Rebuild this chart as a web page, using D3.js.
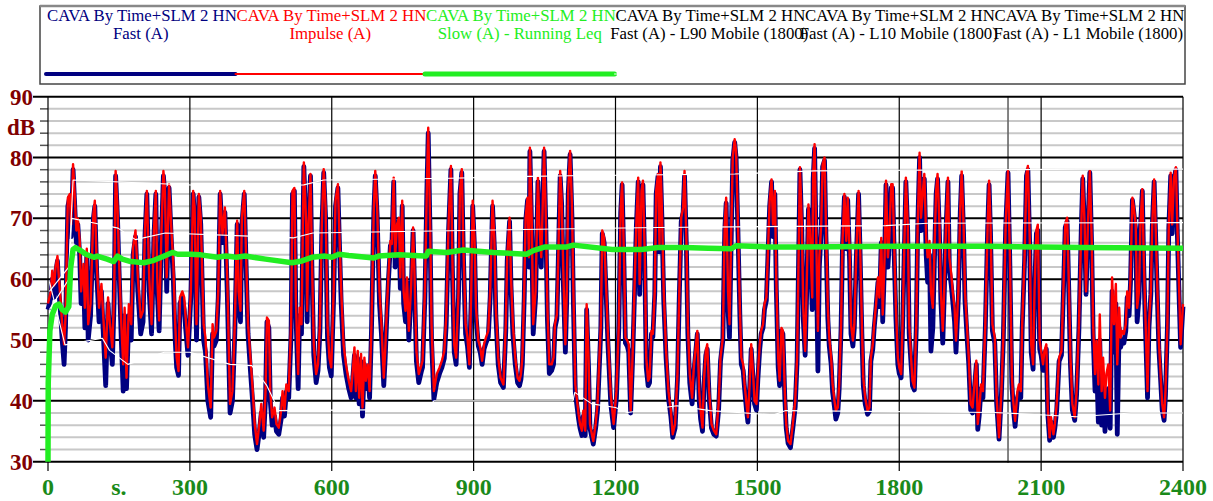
<!DOCTYPE html>
<html><head><meta charset="utf-8">
<script src="https://cdn.jsdelivr.net/npm/d3@7/dist/d3.min.js"></script>
<style>body{margin:0;background:#fff}svg{display:block}text{font-family:"Liberation Serif","Times New Roman",serif}</style>
</head><body><svg id="c" width="1213" height="501"></svg>
<script>
// ---- DATA ----
const legendTitles = ["CAVA By Time+SLM 2 HN","CAVA By Time+SLM 2 HN","CAVA By Time+SLM 2 HN","CAVA By Time+SLM 2 HN","CAVA By Time+SLM 2 HN","CAVA By Time+SLM 2 HN"];
const legendNames = ["Fast (A)","Impulse (A)","Slow (A) - Running Leq","Fast (A) - L90 Mobile (1800)","Fast (A) - L10 Mobile (1800)","Fast (A) - L1 Mobile (1800)"];
const xTicks = [0,300,600,900,1200,1500,1800,2100,2400];
const yTicks = [30,40,50,60,70,80,90];
const xUnit = "s.";
const yUnit = "dB";
const cursorTime = 2030;

const times = [0,6,9,13,16,20,23,27,30,34,37,42,46,49,53,56,60,63,67,70,75,78,82,85,90,96,99,103,108,113,117,122,127,131,136,140,143,147,150,155,159,162,166,171,176,180,185,190,196,201,205,209,214,219,224,228,231,235,240,244,247,251,256,261,265,269,272,276,279,284,288,291,296,302,307,310,314,319,323,329,333,338,344,348,351,356,360,364,369,374,379,385,390,
395,400,403,407,410,415,419,423,428,433,437,442,447,451,456,460,463,467,470,474,479,483,488,493,496,500,504,509,514,517,521,524,529,532,536,539,541,546,548,551,555,558,562,567,571,575,579,583,587,591,595,599,604,608,613,616,620,625,630,636,641,644,648,651,655,658,662,665,669,672,676,680,684,689,692,696,701,705,710,713,717,720,724,727,731,734,738,742,745,749,752,756,759,763,768,772,775,779,784,790,792,797,
801,804,808,811,816,822,828,833,838,842,847,852,855,859,863,868,871,875,878,883,887,891,895,898,902,905,910,914,918,922,926,931,935,940,944,947,952,957,963,968,971,976,979,983,988,993,997,1000,1003,1007,1010,1014,1017,1019,1023,1026,1031,1036,1039,1043,1046,1049,1053,1056,1060,1065,1069,1072,1076,1079,1083,1086,1090,1094,1097,1100,1104,1108,1111,1115,1118,1122,1125,1129,1132,1136,1139,1143,1146,1150,1153,1158,1162,1166,1169,1172,1176,1180,1184,1190,1196,
1202,1207,1211,1214,1218,1221,1225,1228,1232,1236,1240,1244,1248,1251,1255,1258,1262,1265,1269,1272,1276,1279,1283,1286,1290,1293,1295,1298,1302,1307,1312,1317,1321,1326,1331,1335,1339,1343,1346,1350,1353,1357,1362,1366,1369,1373,1377,1380,1384,1387,1391,1394,1398,1403,1408,1413,1418,1422,1427,1431,1434,1438,1441,1445,1448,1452,1455,1459,1463,1466,1470,1473,1477,1480,1484,1487,1491,1494,1498,1501,1505,1508,1512,1515,1519,1522,1526,1530,1533,1537,1540,1544,1547,1551,1554,1558,1561,1565,1570,1575,1580,1584,
1590,1594,1597,1601,1604,1608,1612,1616,1618,1621,1624,1628,1631,1635,1638,1642,1645,1649,1652,1656,1659,1663,1666,1670,1673,1677,1680,1684,1688,1691,1695,1698,1702,1705,1709,1714,1717,1721,1724,1728,1733,1737,1740,1744,1747,1751,1755,1758,1762,1765,1769,1772,1776,1779,1783,1786,1790,1793,1797,1800,1804,1807,1811,1814,1818,1821,1825,1828,1832,1836,1839,1843,1846,1850,1853,1857,1860,1864,1867,1871,1874,1878,1881,1885,1888,1892,1895,1899,1903,1906,1910,1913,1917,1920,1925,1929,1932,1936,1939,1943,1947,1951,1955,1959,1963,1966,1969,1973,1977,1982,1987,
1990,1993,1997,2002,2006,2011,2016,2020,2025,2030,2034,2038,2041,2045,2050,2053,2057,2060,2065,2069,2072,2076,2079,2083,2086,2090,2093,2097,2100,2104,2107,2111,2114,2118,2121,2126,2129,2133,2138,2143,2147,2151,2155,2159,2162,2166,2171,2175,2180,2185,2188,2192,2195,2199,2203,2207,2210,2214,2217,2221,2224,2228,2231,2235,2238,2242,2246,2250,2254,2258,2261,2265,2268,2272,2275,2279,2282,2286,2289,2293,2296,2300,2303,2307,2310,2314,2317,2321,2325,2328,2332,2335,2339,2342,2346,2349,2353,2356,2360,2363,2367,2370,2374,2377,2381,2385,2388,2392,2395,2400];

const impulse = [56,58,61.4,59,62,63.8,60.3,56,52.6,49.3,53.7,73.4,74,69,78.9,74.5,68,70,66.3,58,62.5,55.3,65,52.6,56,70.7,72.9,62.5,55.3,59.2,53.7,47.1,57,52.6,48.8,58,77.8,71.8,63.6,52.6,46,55.3,43.8,55.9,52.6,65.2,68,60.3,53.7,54.8,68,74.5,60.3,52.6,68,74.5,60.3,53.2,68,77.8,75,60.3,75.6,68,62.5,52.6,47.1,44.9,57,58,57,53.7,48.8,58,74.5,71.8,52.6,74,70.1,52.6,50.4,42.7,38.9,52.6,50.4,51.5,58,74.5,67.4,71.8,60.3,39.5,41.6,
52.6,69.6,58,54.8,70.1,74.5,63.6,52.6,47.1,41.6,36.2,32.9,36.2,39.5,35.1,41.6,53.7,53.2,41.6,37.3,38.9,36.2,35.6,38.4,41.6,38.4,42.7,41.6,52.6,74.5,75,57,44.4,55.3,52.6,69,79.2,69,54.8,69,77.3,63.6,49.3,44.4,46,52.6,69,78.1,71.8,52.6,47.1,45.5,58,72.9,75.6,68,58,49.3,46,43.3,41.6,44.4,48.8,41.6,48.2,40.5,47.7,38.9,47.1,43.3,46,41.6,52.6,71.8,77.8,71.8,58,52.6,43.8,48.2,55.9,60.8,66.3,65.8,76.7,63.6,69,70.1,60.3,72.9,58,54.8,60.3,51.5,59.2,68.5,60.8,48.2,44.4,46,46.6,58,
74.5,84.9,69,52.6,41.6,44.4,45.5,46.6,48.2,53.7,69,78.6,63.6,49.3,47.1,58,74.5,78.1,66.3,52.6,50.4,46,58,72.9,66.3,55.3,49.9,48.8,46.6,49.3,50.4,51.5,58,72.9,66.3,55.3,47.1,43.8,42.7,52.6,63.6,70.1,60.3,52.6,47.1,43.8,43.3,44.4,47.1,58,70.1,73.4,63.6,81.6,69,52.6,58,76.7,69,63.6,71.8,81.6,69,55.3,46,46,47.1,52.6,54.2,63.6,77.8,73.4,60.3,49.3,58,74.5,81.1,71.8,58,42.7,40.5,37.8,36.2,35.1,38.4,35.1,55.9,47.1,36.2,34.5,33.4,36.2,39.5,47.1,52.6,68,66.8,59.2,51,41,36.2,
41.6,52.6,71.8,75.9,63.6,50.4,49.9,49.3,38.4,47.1,58,69,76.7,59.2,74.5,76.2,63.6,47.1,43.3,43.8,51.5,51,58,74.5,77.3,65.8,79.2,71.8,58,48.2,41.6,38.4,34.5,36.2,44.4,58,70.1,71.8,77.8,66.3,52.6,44.4,40.5,46,48.2,51.5,41.6,38.4,35.6,43.3,48.2,49.3,41.6,36.2,35.1,34.5,39.5,47.1,50.4,69,73.4,58,52.6,69,80,83,81,69,55.3,47.1,46,42.7,39.5,37.3,43.3,49.3,44.4,40,39.5,44.4,49.3,51.5,52.6,55.9,57,63.6,72.9,76.4,69,74.5,60.3,47.1,43.3,52,51.5,41.6,36.2,33.4,32.9,36.2,40,47.1,
78.4,69,55.3,48.2,58,72.3,66.3,57,77.3,82.2,69,51.5,63.6,69,78.9,80,69,55.3,50.4,47.1,42.7,40,38.4,38.9,42.7,52.6,66.3,74,66.3,73.4,64.7,52.6,49.9,52.6,63.6,74.5,66.3,52.6,43.8,40.5,38.4,38.9,47.1,49.3,52.6,55.9,60.3,57,66.8,54.2,63.6,76.2,63.6,66.8,75.6,75.6,63.6,55.3,47.1,45.5,44.4,52.6,66.3,76.7,69,52.6,47.1,43.3,42.2,52.6,69,80.8,70.1,74.5,77.3,66.8,63.6,66.3,58,55.3,63.6,74.5,77.3,69,58,51.5,58,69,76.7,63.6,60.8,58,55.3,49.9,58,71.8,77.8,69,58,52.6,47.1,39.5,38.9,42.7,46.6,36.2,38.4,42.7,41.6,52.6,69,
76.2,69,52.6,50.4,40.5,34,41.6,50.4,69,77.8,63.6,44.4,40,36.7,41.6,42.7,41.6,52.6,63.6,77.3,78.6,66.3,49.3,46,58,68,69,49.9,48.2,46,48.2,49.3,38.9,34,37.3,34.5,36.2,39.5,47.1,48.2,58,69,70.1,58,47.1,39.5,37.3,41.6,52.6,69,77,69,58,69,77.8,66.3,52.6,44.4,49.9,42.7,54.2,41.6,47.1,40.5,44.4,46,38.4,60.3,52.6,59.2,46,55.3,50.4,51.5,51,52.6,58,55.3,60.3,73.4,71.8,69,55.3,58,69,74.8,63.6,52.6,41.6,52.6,58,69,76.4,69,58,49.9,43.8,39.5,37.3,41.6,52.6,69,77.5,69,76.7,78.4,69,58,49.3,55.9];

const fast = [55,57,60,57,61,63,58,54,50,46,52,72,73.5,67,78,73,66,69,64,56,61,52,64,50,54,70,72,61,53,58,51,42.5,56,50,46,57,77,70,62,50,41.6,54,42,54,50,64,67,58,51,53,67,74,58,51,67,74,58,51.5,67,77,74,58,75,66,60,50,45.5,44.2,56,57,55,52,47.5,57,74,70,50,73.5,69,50,48,40,37.3,51,49,50,57,74,66,71,58,38,40,
51,69,56,53,69,74,62,51,45,39.5,34.5,32,35,38,34,40.5,53,52,40,36,37.5,35,34.5,37,40.5,37.5,41.5,40.5,51,74,74.5,55,42,54,51,68,78.5,67,53,68,77,62,47.5,43,45,51.5,68,77.5,70,50.5,45.5,44.1,57,72,75,66.5,56,47.5,44.5,42,40.5,43,47.5,40.5,47,39.5,46.5,37.5,46,42,45,40.5,51.5,71,77,70.5,56,51,42.5,47,55,60,65.5,65,76,62,68,69.5,58.5,72,56,53,59.5,50,58,68,59,46.5,43,45,45.5,57,
74,84,67,50,40.3,43,44.5,45.5,47,52.5,68,78,62,48,46,57,74,77.5,65,51,49,45.5,57,72,65,54,49,48,46,48.5,49.5,50.5,57,72,65,54,46,43,42.2,51.5,63,69.5,59,51,46,43,42.5,43.5,46,57,69.5,73,62,81,67,51,57,76,68,62,71,81,67.5,53.5,44.5,45,46,52,53.5,63,77,72.5,58.5,48,57,74,80.5,70,56,41.5,39.5,37,35.5,34.3,37.5,34.3,55,45.5,35.5,34,32.9,35.5,38.5,46,52,67.5,66,58,49.5,39.5,35.6,
40.5,52,71,75.5,62,49.5,49,48,38,46.5,57,68.5,76,57.5,74,75.5,62,45.5,42.5,43,51,50.5,57.5,74,77,64.5,78.5,70.5,56.5,47,40.5,37.5,34,35.5,43.5,57.5,69.5,71,77,65,51,43,39.5,45,47.5,51,40,37,35,42.5,47.5,48.5,40.5,35.5,34.5,34.2,38.5,46.5,50,68,72.5,55,50.4,68,79.5,82.5,80,67.5,54,46,45,42,38.5,36.5,42.5,48.5,43.5,39.5,38.5,43.5,48.5,51,52,55,56.5,63,72,76,67,74,58.5,45.5,42.5,51.5,51,40.5,35.5,33,32.3,35.5,39,46.5,
78,67.5,53.5,47.5,57,71.5,65,55,76.5,81.5,67,44.9,62,68,78.5,79.5,67,53.5,49,46,41.5,39,37,38,42,52,65.5,73.5,65,73,63,51,49,52,63,74,65,51,42.5,39.5,37.8,38.3,46.5,48.5,52,55.5,59.5,55.5,66,53,63,75.5,62,66,75,75,62,53.5,46,44.5,43.8,52,65.5,76,67.5,51,46,42.5,41.8,52,68.5,80,68,73.5,76.5,64,59.5,64,48.2,52,62,74,76.5,67.5,56.5,49.5,57,68.5,76,61.5,59,56.5,53,48,57,71,77,67.5,56.5,51,46,38.5,38,42,46,35.3,37.5,42,40.5,52,68.5,
75.5,67.5,51.5,49.5,39.5,33.7,41,50,68.5,77.5,62,43,39,35.8,40.5,41.5,40.5,52,63,77,78,65,48,45.2,57.5,67.5,68,48.5,47.5,45,47.5,48.5,38,33.5,36.5,34,35.5,38.5,46.5,47.5,57.5,68.5,69.5,56.5,46,38.5,36.8,41,52,68.5,76.5,67.5,57.5,68.5,77.5,65,51,41.6,47,36.5,50,36,43,35,39,42,35.5,58,48,56,34.5,52,48.8,50,49.5,51.5,57,54,59.5,73,71,68,53,57,68.5,74.5,62,51,40.5,52,57.5,68.5,76,67.5,56.5,48.5,43,38.5,36.8,41,52,68.5,77,67.5,76.5,78,67.5,56.5,48.8,55.5];

const leqTimes = [0,0.5,4,9,16,23,30,37,44,48,53,58,69,80,97,104,125,139,147,157,175,203,224,242,263,274,302,323,358,376,398,417,460,516,537,558,586,600,615,636,689,699,742,795,800,804,843,878,942,1012,1026,1051,1097,1111,1193,1255,1290,1346,1396,1445,1455,1522,1590,1800,1988,2190,2400];
const leqValues = [30,43,51.5,54.2,55.6,55.9,55,54.6,55.5,61.9,64.9,65.2,64.7,64.1,63.6,63.8,63.3,62.9,63.8,63.3,62.9,62.7,63.1,63.7,64.4,64.1,64.1,64,63.6,63.8,63.6,63.8,63.3,62.7,63,63.6,63.8,63.6,64.1,63.9,63.5,63.8,64,63.8,63.8,64.6,64.4,64.8,64.4,64.1,64.7,65.3,65.3,65.6,64.9,64.9,65.2,65.2,65.1,65,65.5,65.3,65.3,65.4,65.4,65.2,65.1];

const l90Times = [3,36,115,130,169,246,300,385,431,462,488,800,816,1110,1114,1150,1200,1225,1330,1400,1535,1560,2000,2175,2290,2400];
const l90Values = [59.6,49.2,50.3,48.3,46,48,48,46,45.8,42.6,38.4,38.6,40,40,41.4,39.5,38.9,38.1,39.2,38.4,37.7,38.4,38.1,37.4,38,38];
const l10Times = [3,44,50,100,148,185,248,520,560,1035,1290,1772,1860,2400];
const l10Values = [55,60,70,69.2,68.4,66.5,67.6,66.8,67.6,68.2,68.5,68.8,69.2,69.3];
const l1Times = [3,44,53,389,541,583,851,1019,1104,1452,1621,2203,2400];
const l1Values = [58,62,76.3,75.2,75.5,76.3,76.6,76.9,77,77.3,77.8,78.1,78.1];

// ---- DRAW ----
const svg = d3.select("#c");
const x = d3.scaleLinear().domain([0,2400]).range([48,1183]);
const y = d3.scaleLinear().domain([30,90]).range([461.7,96.7]);

// legend
const leg = svg.append("g");
leg.append("rect").attr("x",40).attr("y",6).attr("width",1145).attr("height",78)
  .attr("fill","#fff").attr("stroke","#444").attr("stroke-width",1.5);
leg.append("line").attr("x1",40).attr("x2",1185).attr("y1",6).attr("y2",6).attr("stroke","#888").attr("stroke-width",2.5);
const legColors = ["#000080","#ff0000","#22ee22","#000","#000","#000"];
const lineColors = ["#000080","#ff0000","#22ee22","#fff","#fff","#fff"];
const lineWidths = [4,2,5,1,1,1];
const colW = 189.5;
legendNames.forEach((n,i)=>{
  const x0 = 46 + i*colW;
  leg.append("text").attr("x",x0+1).attr("y",21).attr("font-size",16.8).attr("fill",legColors[i]).text(legendTitles[i]);
  leg.append("text").attr("x",x0+colW/2).attr("y",39).attr("text-anchor","middle").attr("font-size",16.8).attr("fill",legColors[i]).text(n);
  leg.append("line").attr("x1",x0).attr("x2",x0+colW).attr("y1",74).attr("y2",74)
    .attr("stroke",lineColors[i]).attr("stroke-width",lineWidths[i]).attr("stroke-linecap","round");
});

// grid
const g = svg.append("g");
const minor = d3.range(32,90,2).filter(v=>v%10!==0);
g.selectAll(".mn").data(minor).enter().append("line")
  .attr("x1",48).attr("x2",1183).attr("y1",d=>y(d)).attr("y2",d=>y(d))
  .attr("stroke","#c8c8c8").attr("stroke-width",2);
g.selectAll(".mt").data(minor).enter().append("line")
  .attr("x1",40).attr("x2",48).attr("y1",d=>y(d)).attr("y2",d=>y(d))
  .attr("stroke","#555").attr("stroke-width",1.5);
g.selectAll(".vx").data(xTicks).enter().append("line")
  .attr("x1",d=>x(d)).attr("x2",d=>x(d)).attr("y1",y(90)).attr("y2",471)
  .attr("stroke","#000").attr("stroke-width",1.2);
g.append("line").attr("x1",x(cursorTime)).attr("x2",x(cursorTime)).attr("y1",y(90)).attr("y2",y(30)+1)
  .attr("stroke","#666").attr("stroke-width",1.6);
g.selectAll(".mj").data(yTicks).enter().append("line")
  .attr("x1",33).attr("x2",1183).attr("y1",d=>y(d)).attr("y2",d=>y(d))
  .attr("stroke","#000").attr("stroke-width",2);

// series
const idx = d3.range(times.length);
const ln = (tt,vv)=>d3.line().x(i=>x(tt[i])).y(i=>y(vv[i]));
const p = svg.append("g").attr("fill","none").attr("stroke-linejoin","round");
p.append("path").attr("d",ln(times,fast)(idx)).attr("stroke","#000080").attr("stroke-width",4.8);
p.append("path").attr("d",ln(times,impulse)(idx)).attr("stroke","#ff0000").attr("stroke-width",2.4);
p.append("path").attr("d",ln(l90Times,l90Values)(d3.range(l90Times.length))).attr("stroke","#fff").attr("stroke-width",1.1);
p.append("path").attr("d",ln(l10Times,l10Values)(d3.range(l10Times.length))).attr("stroke","#fff").attr("stroke-width",1.1);
p.append("path").attr("d",ln(l1Times,l1Values)(d3.range(l1Times.length))).attr("stroke","#fff").attr("stroke-width",1.1);
p.append("path").attr("d",ln(leqTimes,leqValues)(d3.range(leqTimes.length))).attr("stroke","#22ee22").attr("stroke-width",5.5);

// axis labels
const yl = svg.append("g").attr("font-weight","bold").attr("font-size",23).attr("fill","#800000");
yl.selectAll("text").data(yTicks).enter().append("text")
  .attr("x",33).attr("y",d=>y(d)+8).attr("text-anchor","end").text(d=>d);
yl.append("text").attr("x",7).attr("y",135).text(yUnit);
const xl = svg.append("g").attr("font-weight","bold").attr("font-size",24).attr("fill","#1a8a1a");
xl.selectAll("text").data(xTicks).enter().append("text")
  .attr("x",d=>x(d)).attr("y",495).attr("text-anchor","middle").text(d=>d);
xl.append("text").attr("x",x(150)).attr("y",495).attr("text-anchor","middle").text(xUnit);
</script></body></html>
